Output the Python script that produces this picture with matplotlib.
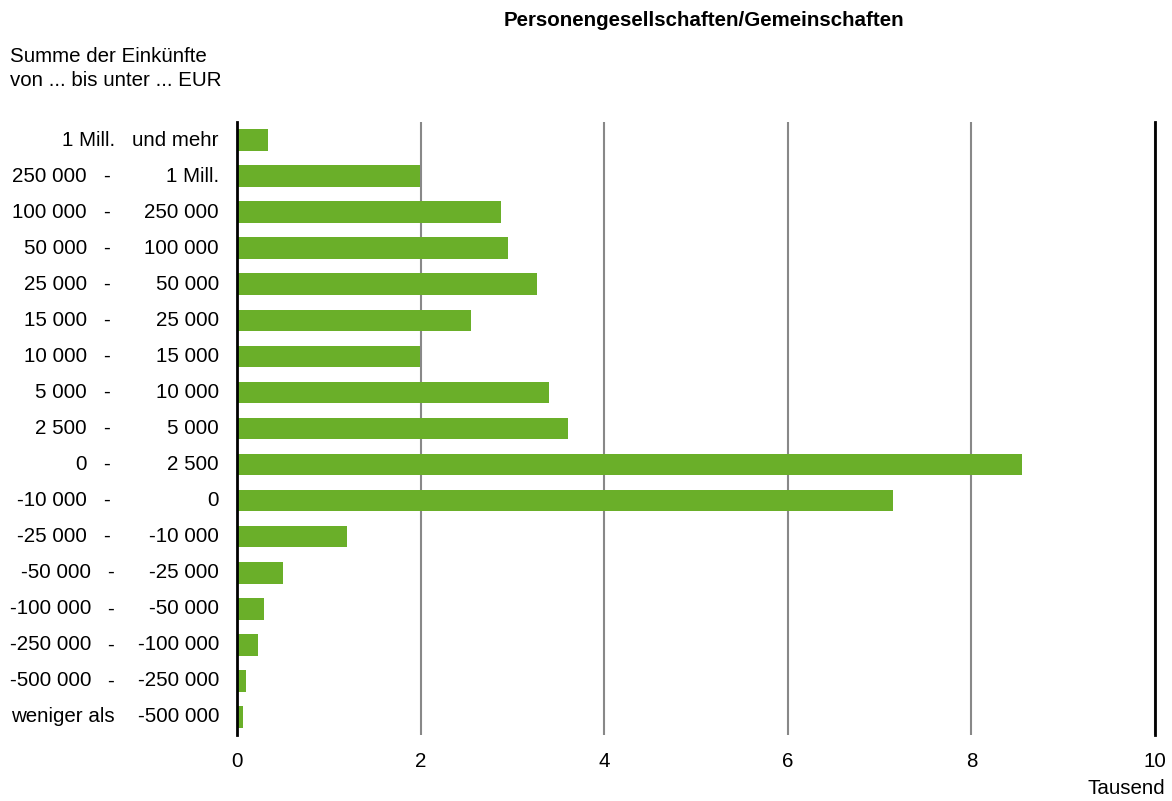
import matplotlib
matplotlib.use("Agg")
from matplotlib import pyplot as plt
from matplotlib import transforms

plt.rcParams["font.family"] = ["Liberation Sans", "DejaVu Sans"]

# income classes (from / to), top to bottom
lower = ["1 Mill.", "250 000", "100 000", "50 000", "25 000", "15 000", "10 000",
         "5 000", "2 500", "0", "-10 000", "-25 000", "-50 000", "-100 000",
         "-250 000", "-500 000", "weniger als"]
upper = ["und mehr", "1 Mill.", "250 000", "100 000", "50 000", "25 000", "15 000",
         "10 000", "5 000", "2 500", "0", "-10 000", "-25 000", "-50 000",
         "-100 000", "-250 000", "-500 000"]
has_dash = [False] + [True] * 15 + [False]
# number of partnerships, thousand
values = [0.34, 1.99, 2.88, 2.95, 3.27, 2.55, 1.99, 3.40, 3.61, 8.55, 7.15,
          1.20, 0.50, 0.29, 0.23, 0.10, 0.07]

W, H = 1172, 801
fs = 14.8
fig = plt.figure(figsize=(W / 100, H / 100), dpi=100)
ax = fig.add_axes([237 / W, 1 - 735 / H, (1155 - 237) / W, (735 - 122) / H])

y = list(range(len(values)))
ax.barh(y, values, height=0.6, color="#6aaf29", zorder=3)
ax.set_ylim(len(values) - 0.5, -0.5)
ax.set_xlim(0, 10)
ax.set_xticks([0, 2, 4, 6, 8, 10])
ax.set_xticklabels(["0", "2", "4", "6", "8", "10"], fontsize=fs)
ax.tick_params(axis="x", length=0, pad=12)
ax.set_yticks([])
ax.grid(axis="x", color="#888888", linewidth=1.5, zorder=1)
for s in ["top", "bottom"]:
    ax.spines[s].set_visible(False)
for s in ["left", "right"]:
    ax.spines[s].set_linewidth(2)
    ax.spines[s].set_zorder(5)

tr = transforms.blended_transform_factory(fig.transFigure, ax.transData)
for i in y:
    if has_dash[i]:
        shift = 4 if (lower[i].startswith("-") and i >= 12) else 0
        ax.text((87 + shift) / W, i, lower[i], transform=tr, ha="right", va="center", fontsize=fs)
        ax.text((107 + shift) / W, i, "-", transform=tr, ha="center", va="center", fontsize=fs)
    else:
        ax.text(115 / W, i, lower[i], transform=tr, ha="right", va="center", fontsize=fs)
    ax.text(219 / W, i, upper[i], transform=tr, ha="right", va="center", fontsize=fs)

fig.text(704 / W, 1 - 20 / H, "Personengesellschaften/Gemeinschaften",
         ha="center", va="center", fontsize=14.8, fontweight="bold")
fig.text(10 / W, 1 - 56 / H, "Summe der Einkünfte", ha="left", va="center", fontsize=fs)
fig.text(10 / W, 1 - 81 / H, "von ... bis unter ... EUR", ha="left", va="center", fontsize=fs)
fig.text(1165 / W, 1 - 789 / H, "Tausend", ha="right", va="center", fontsize=fs)

fig.savefig("out.png", dpi=100)
